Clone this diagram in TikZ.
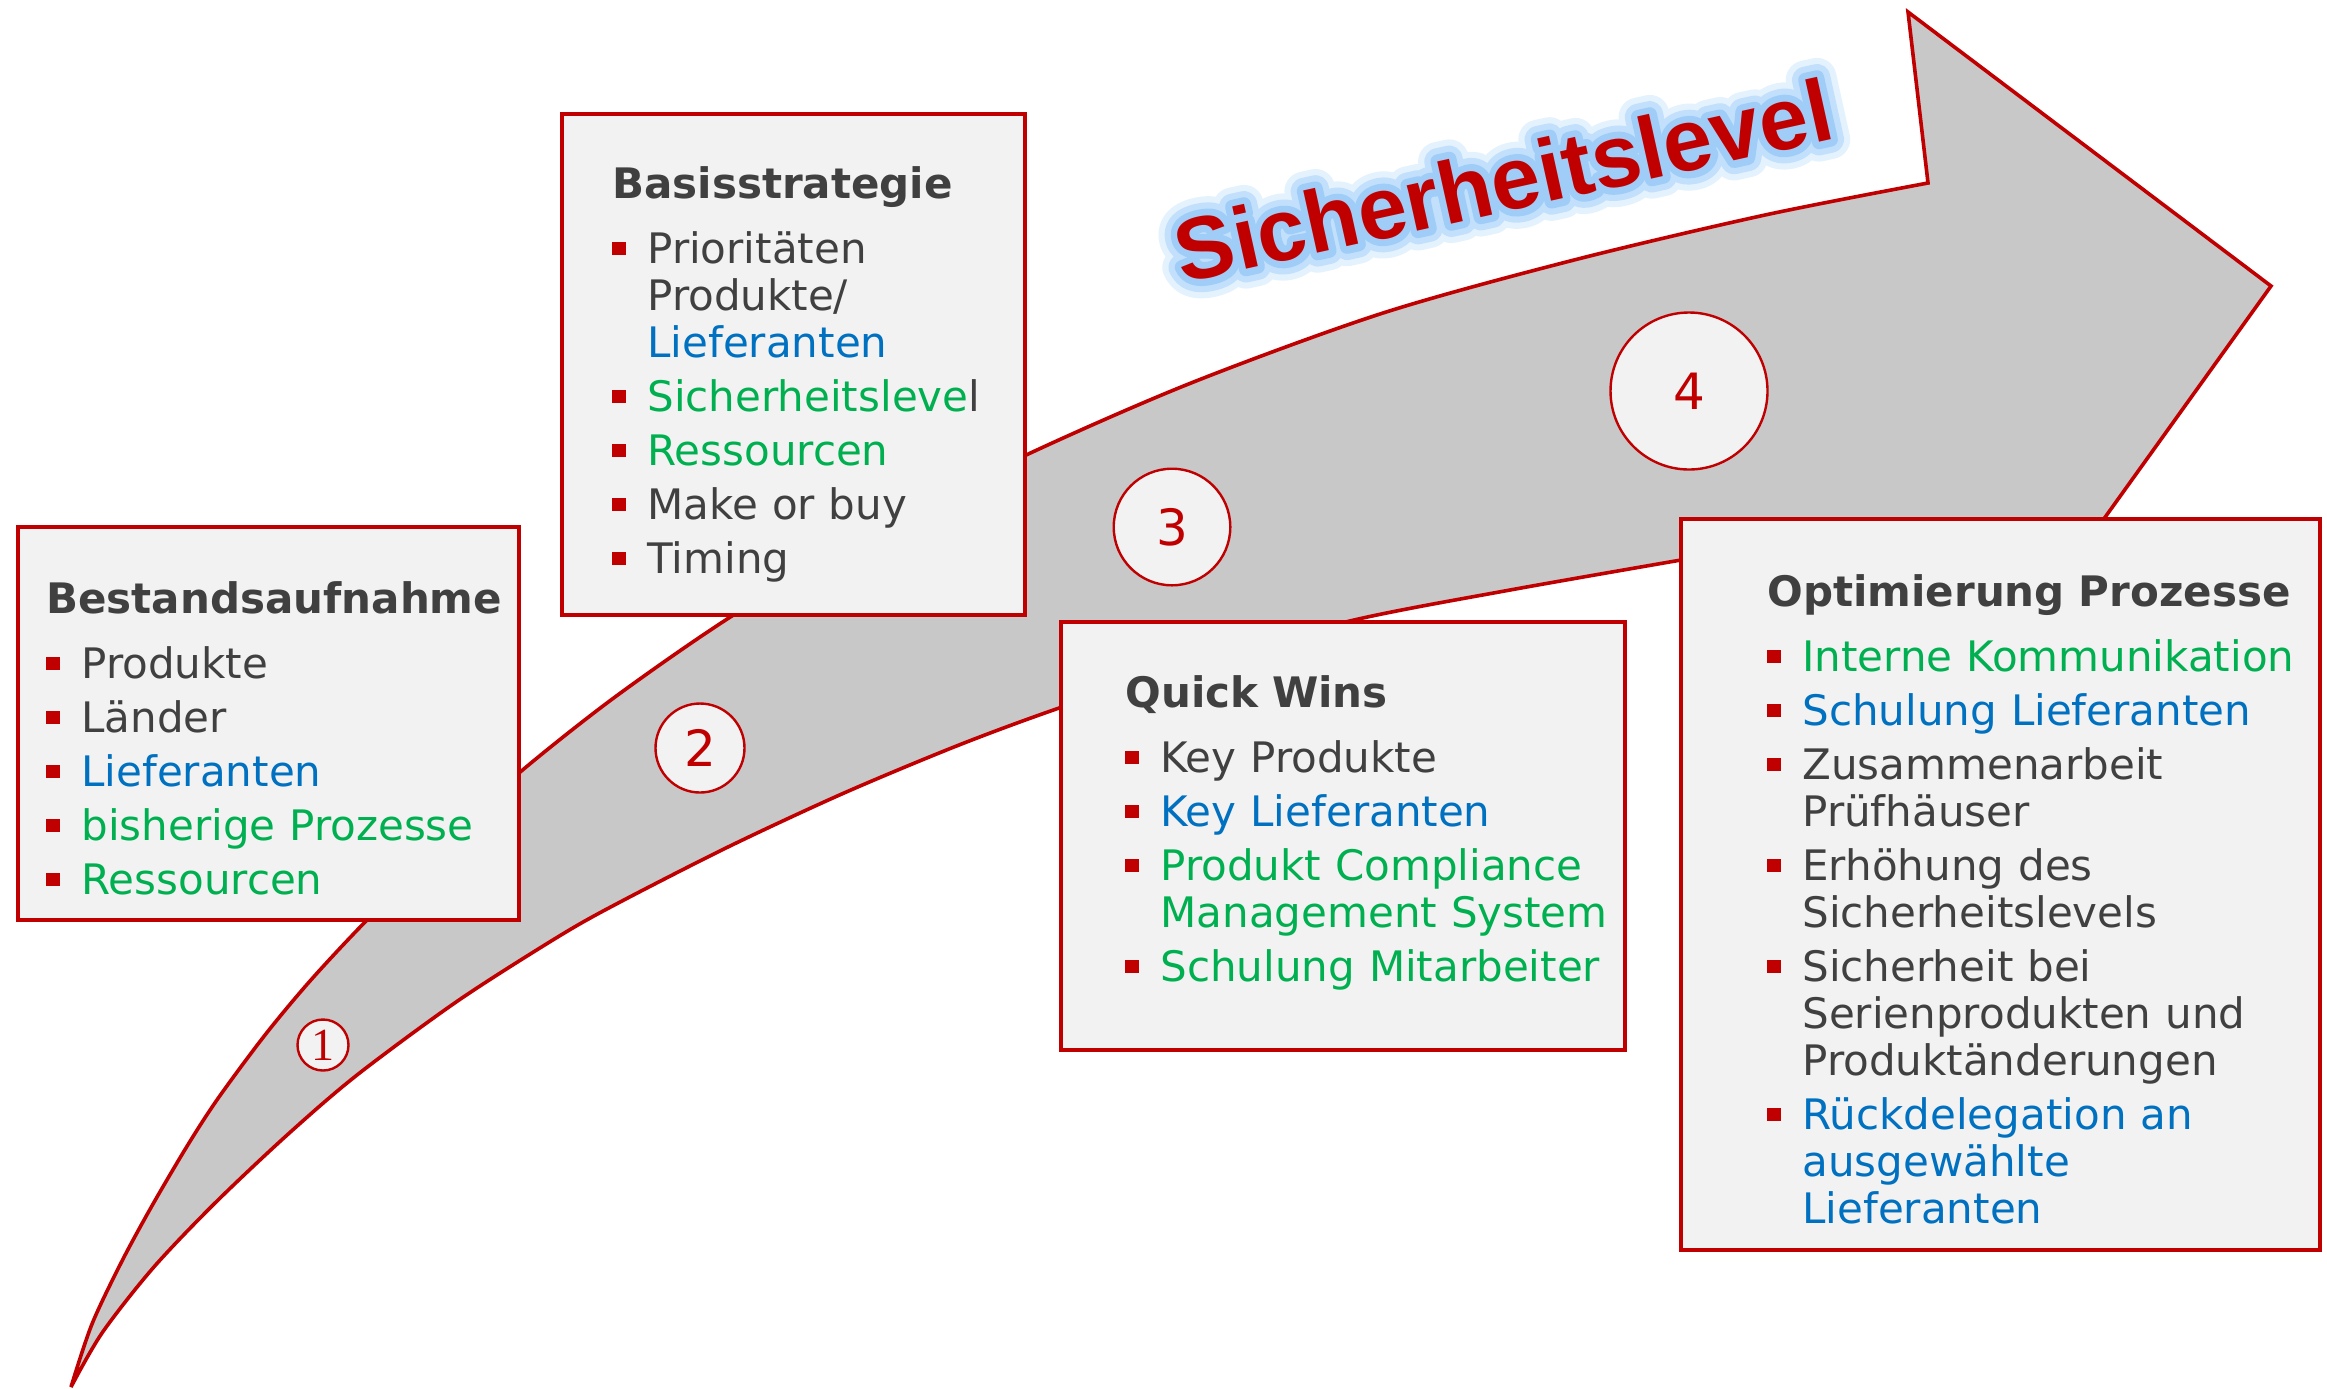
\documentclass[tikz,border=0pt]{standalone}
\usepackage{fontspec}
\setmainfont{DejaVu Sans}
\newfontfamily\titlefont{Liberation Sans}
\newfontfamily\glowinner[FakeBold=16]{Liberation Sans Bold}
\newfontfamily\glowmid[FakeBold=30]{Liberation Sans Bold}
\newfontfamily\glowouter[FakeBold=44]{Liberation Sans Bold}
\newfontfamily\onefont{Liberation Serif}
\usetikzlibrary{calc}
\definecolor{dred}{HTML}{C00000}
\definecolor{tgray}{HTML}{404040}
\definecolor{tblue}{HTML}{0070C0}
\definecolor{tgreen}{HTML}{00B050}
\definecolor{boxfill}{HTML}{F2F2F2}
\definecolor{arrowfill}{HTML}{C8C8C8}
\definecolor{glowin}{HTML}{9FCDF7}
\definecolor{glowmidc}{HTML}{C2E0FB}
\definecolor{glowout}{HTML}{E4F2FE}
\newcommand\bhead[1]{{\bfseries #1}\par\vspace{9pt}}
\newcommand\bitem[2]{\par\noindent\hangindent=17.5pt\hangafter=1\makebox[17.5pt][l]{\textcolor{dred}{\rule[4pt]{6.7pt}{6.7pt}}}\textcolor{#1}{#2}\par\vspace{3.5pt}}
\tikzset{
  infobox/.style={draw=dred, line width=2pt, fill=boxfill, rectangle, inner sep=0pt},
  infotext/.style={anchor=base west, inner sep=0pt, text width=300pt, align=left, text=tgray,
    font=\fontsize{21}{23.5}\selectfont},
  stepcircle/.style={draw=dred, line width=1.2pt, fill=boxfill, circle, inner sep=0pt, text=dred},
  arrowshape/.style={draw=dred, line width=1.8pt, fill=arrowfill},
  titlestyle/.style={rotate=12.5, anchor=center, inner sep=0pt, line join=round}
}
\begin{document}
\begin{tikzpicture}[x=0.5pt, y=-0.5pt]
\useasboundingbox (0,0) rectangle (2327,1388);
% big arrow
\filldraw[arrowshape] plot[smooth, tension=0.5] coordinates {(71,1387) (92,1324) (122,1261) (153,1204) (189,1143) (219,1097) (265,1035) (310,981) (365,922) (450,837) (519,773) (615,697) (735,614) (880,529) (1024,456) (1191,383) (1383,313) (1574,260) (1765,215) (1928,183)}
  -- (1908,12) -- (2271,286) -- (2060,580)
  -- plot[smooth, tension=0.5] coordinates {(1681,560) (1510,590) (1354,620) (1200,662) (1062,707) (959,745) (844,793) (730,846) (622,901) (561,935) (459,1000) (357,1075) (286,1136) (214,1204) (153,1268) (102,1333) (71,1387)} -- cycle;
% boxes
\node (b1) [infobox, minimum width=250.5pt, minimum height=196.5pt] at (268.5,723.5) {};
\node (b2) [infobox, minimum width=231.5pt, minimum height=250.5pt] at (793.5,364.5) {};
\node (b3) [infobox, minimum width=282pt, minimum height=214pt] at (1343,836) {};
\node (b4) [infobox, minimum width=319.5pt, minimum height=365.5pt] at (2000.5,884.5) {};
% texts
\node (t1) [infotext] at (46,613) {\bhead{Bestandsaufnahme}
\bitem{tgray}{Produkte}
\bitem{tgray}{Länder}
\bitem{tblue}{Lieferanten}
\bitem{tgreen}{bisherige Prozesse}
\bitem{tgreen}{Ressourcen}};
\node (t2) [infotext] at (612,198) {\bhead{Basisstrategie}
\bitem{tgray}{Prioritäten\newline Produkte/\newline \textcolor{tblue}{Lieferanten}}
\bitem{tgreen}{Sicherheitsleve\textcolor{tgray}{l}}
\bitem{tgreen}{Ressourcen}
\bitem{tgray}{Make or buy}
\bitem{tgray}{Timing}};
\node (t3) [infotext] at (1125,707) {\bhead{Quick Wins}
\bitem{tgray}{Key Produkte}
\bitem{tblue}{Key Lieferanten}
\bitem{tgreen}{Produkt Compliance\newline Management System}
\bitem{tgreen}{Schulung Mitarbeiter}};
\node (t4) [infotext] at (1767,606) {\bhead{Optimierung Prozesse}
\bitem{tgreen}{Interne Kommunikation}
\bitem{tblue}{Schulung Lieferanten}
\bitem{tgray}{Zusammenarbeit\newline Prüfhäuser}
\bitem{tgray}{Erhöhung des\newline Sicherheitslevels}
\bitem{tgray}{Sicherheit bei\newline Serienprodukten und\newline Produktänderungen}
\bitem{tblue}{Rückdelegation an\newline ausgewählte\newline Lieferanten}};
% step circles
\node (c1) [stepcircle, minimum size=25.5pt, font=\onefont\fontsize{23}{25}\selectfont] at (323,1045) {1};
\node (c2) [stepcircle, minimum size=44.5pt, font=\fontsize{25}{28}\selectfont] at (700,748) {2};
\node (c3) [stepcircle, minimum size=58.3pt, font=\fontsize{25}{28}\selectfont] at (1172,527) {3};
\node (c4) [stepcircle, minimum size=78.5pt, font=\fontsize{25}{28}\selectfont] at (1689,391) {4};
% title with glow
\coordinate (tc) at (1503,180);
\node (glow3) [titlestyle, text=glowout, font=\glowouter\fontsize{44}{50}\selectfont] at (tc) {Sicherheitslevel};
\node (glow2) [titlestyle, text=glowmidc, font=\glowmid\fontsize{44}{50}\selectfont] at (tc) {Sicherheitslevel};
\node (glow1) [titlestyle, text=glowin, font=\glowinner\fontsize{44}{50}\selectfont] at (tc) {Sicherheitslevel};
\node (title) [titlestyle, text=dred, font=\titlefont\bfseries\fontsize{44}{50}\selectfont] at (tc) {Sicherheitslevel};
\end{tikzpicture}
\end{document}
